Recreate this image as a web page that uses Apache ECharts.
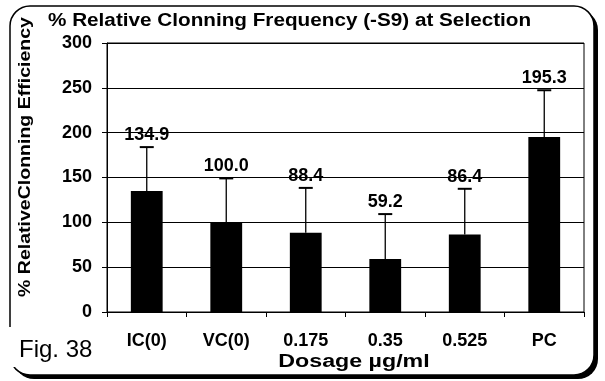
<!DOCTYPE html>
<html>
<head>
<meta charset="utf-8">
<script src="https://cdn.jsdelivr.net/npm/echarts@6/dist/echarts.min.js"></script>
<style>
  html, body { margin: 0; padding: 0; background: #fff; }
  #ec { width: 605px; height: 381px; }
</style>
</head>
<body>
<div id="ec"></div>
<script>
const categories = ["IC(0)", "VC(0)", "0.175", "0.35", "0.525", "PC"];
const values = [134.9, 100.0, 88.4, 59.2, 86.4, 195.3];
const errors = [49, 49, 50, 50, 51, 52];
const yTicks = [0, 50, 100, 150, 200, 250, 300];

const FONT = "Arial, 'Liberation Sans', sans-serif";

const chart = echarts.init(document.getElementById("ec"));
chart.setOption({
  animation: false,
  backgroundColor: "#fff",
  grid: {
    left: 107,
    right: 21,
    top: 43,
    bottom: 69,
    show: true,
    borderColor: "#000",
    borderWidth: 1,
    backgroundColor: "transparent",
  },
  xAxis: {
    type: "category",
    data: categories,
    axisLine: { lineStyle: { color: "#000", width: 1 } },
    axisTick: { show: true, length: 5, lineStyle: { color: "#000" } },
    axisLabel: {
      color: "#000",
      fontFamily: FONT,
      fontWeight: "bold",
      fontSize: 18,
      margin: 20,
    },
  },
  yAxis: {
    type: "value",
    min: yTicks[0],
    max: yTicks[yTicks.length - 1],
    interval: 50,
    axisLine: { show: true, lineStyle: { color: "#000", width: 1 } },
    axisTick: { show: true, length: 5, lineStyle: { color: "#000" } },
    splitLine: { lineStyle: { color: "#000", width: 1 } },
    axisLabel: {
      color: "#000",
      fontFamily: FONT,
      fontWeight: "bold",
      fontSize: 18,
      margin: 15,
    },
  },
  series: [
    {
      type: "bar",
      data: values,
      barWidth: "40%",
      itemStyle: { color: "#000" },
    },
    {
      type: "custom",
      z: 3,
      data: values.map((v, i) => [i, v, errors[i]]),
      renderItem: function (params, api) {
        const i = api.value(0);
        const v = api.value(1);
        const e = api.value(2);
        const base = api.coord([i, v]);
        const top = api.coord([i, v + e]);
        return {
          type: "group",
          children: [
            { type: "line", shape: { x1: base[0], y1: base[1], x2: top[0], y2: top[1] }, style: { stroke: "#000", lineWidth: 1.3 } },
            { type: "line", shape: { x1: top[0] - 7, y1: top[1], x2: top[0] + 7, y2: top[1] }, style: { stroke: "#000", lineWidth: 2 } },
            {
              type: "text",
              x: top[0],
              y: top[1] - 12,
              style: {
                text: v.toFixed(1),
                fill: "#000",
                font: "bold 18px " + FONT,
                align: "center",
                verticalAlign: "middle",
              },
            },
          ],
        };
      },
    },
  ],
  graphic: [
    // frame shadow + frame
    { type: "rect", z: -10, shape: { x: 14, y: 10, width: 584, height: 369, r: 20 }, style: { fill: "#000" } },
    { type: "rect", z: -9, shape: { x: 10, y: 6, width: 584, height: 369, r: 20 }, style: { fill: "#fff", stroke: "#000", lineWidth: 1.5 } },
    { type: "rect", z: -8, shape: { x: 6, y: 327, width: 10, height: 40 }, style: { fill: "#fff" } },
    {
      type: "text",
      z: 10,
      x: 48,
      y: 21,
      scaleX: 1.15,
      style: { text: "% Relative Clonning Frequency (-S9) at Selection", fill: "#000", font: "bold 18px " + FONT, verticalAlign: "middle" },
    },
    {
      type: "text",
      z: 10,
      x: 26,
      y: 157,
      rotation: Math.PI / 2,
      scaleX: 1.22,
      style: { text: "% RelativeClonning Efficiency", fill: "#000", font: "bold 16px " + FONT, align: "center", verticalAlign: "middle" },
    },
    {
      type: "text",
      z: 10,
      x: 354,
      y: 362,
      scaleX: 1.29,
      style: { text: "Dosage µg/ml", fill: "#000", font: "bold 18px " + FONT, align: "center", verticalAlign: "middle" },
    },
    {
      type: "text",
      z: 10,
      x: 19,
      y: 350,
      style: { text: "Fig. 38", fill: "#000", font: "24px " + FONT, verticalAlign: "middle" },
    },
  ],
});
</script>
</body>
</html>
